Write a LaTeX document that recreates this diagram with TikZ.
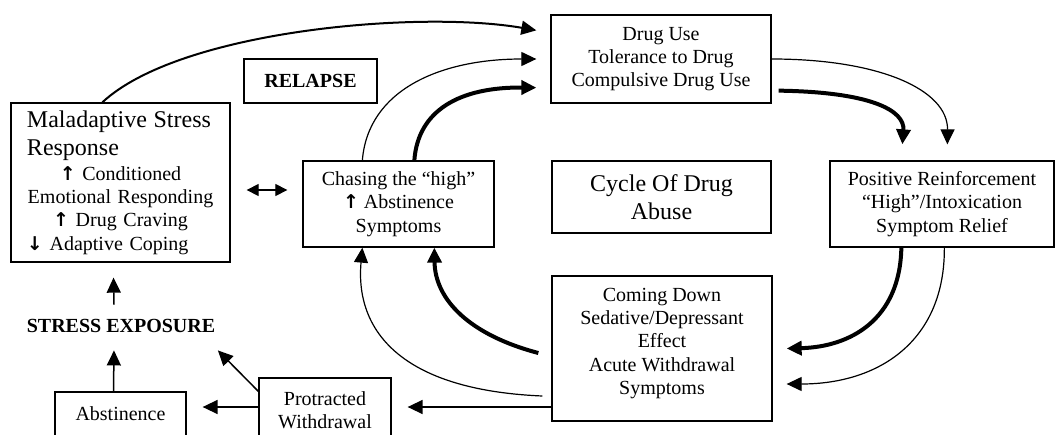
\documentclass[tikz,border=0pt]{standalone}
\usepackage{fontspec}
\setmainfont{Liberation Serif}
\newfontfamily\arrowfont{DejaVu Sans}
\newcommand{\uparw}{{\arrowfont\bfseries\fontsize{19}{19}\selectfont ↑}}
\newcommand{\dnarw}{{\arrowfont\bfseries\fontsize{19}{19}\selectfont ↓}}
\usetikzlibrary{arrows.meta,calc}
\tikzset{
  box/.style={draw, line width=1.3pt, inner sep=0pt, align=center, font=\fontsize{20}{23.3}\selectfont},
  tipstyle/.style={-{Triangle[length=15pt,width=14pt]}},
  thinarr/.style={tipstyle, line width=1.2pt},
  medarr/.style={tipstyle, line width=2pt},
  thickarr/.style={tipstyle, line width=4pt},
  plainarr/.style={tipstyle, line width=1.5pt},
  dblarr/.style={{Triangle[length=12pt,width=12pt]}-{Triangle[length=12pt,width=12pt]}, line width=1.2pt},
  boldlabel/.style={font=\bfseries\fontsize{20}{23}\selectfont}
}
\begin{document}
\begin{tikzpicture}[x=1pt,y=-1pt]
\useasboundingbox (0,0) rectangle (1058,434);
\fill[white] (0,0) rectangle (1058,434);

% boxes
\node[box, minimum width=220pt, minimum height=88pt] (drug) at (661,59)
  {Drug Use\\Tolerance to Drug\\Compulsive Drug Use};
\node[box, boldlabel, minimum width=133pt, minimum height=44pt] (relapse) at (310.5,81) {RELAPSE};
\node[box, minimum width=219pt, minimum height=159pt, text width=187pt, align=left] (mal) at (120.5,182.5)
  {{\fontsize{24}{28}\selectfont Maladaptive Stress\\Response\par}%
   \vspace{1.7pt}%
   {\fontsize{20}{23.3}\selectfont\centering \uparw{} Conditioned\\Emotional Responding\\\uparw{} Drug Craving\par}%
   {\fontsize{20}{23.3}\selectfont \dnarw{} Adaptive Coping\par}};
\node[box, minimum width=191pt, minimum height=86pt] (chase) at (398.5,204)
  {Chasing the “high”\\\uparw{} Abstinence\\Symptoms};
\node[box, minimum width=219pt, minimum height=72pt, font=\fontsize{24}{28}\selectfont] (cycle) at (661.5,197)
  {Cycle Of Drug\\Abuse};
\node[box, minimum width=224pt, minimum height=86pt] (pos) at (942,204)
  {Positive Reinforcement\\“High”/Intoxication\\Symptom Relief};
\node[box, minimum width=220pt, minimum height=145pt] (come) at (662,348.5)
  {\parbox{215pt}{\centering Coming Down\\Sedative/Depressant\\Effect\\Acute Withdrawal\\Symptoms\par\vspace{10pt}}};
\node[box, minimum width=132pt, minimum height=64pt] (prot) at (325,410) {Protracted\\Withdrawal};
\node[box, minimum width=131pt, minimum height=44pt] (abst) at (120.5,414) {Abstinence};
\node[boldlabel, inner sep=0pt] (stress) at (121,326) {STRESS EXPOSURE};

% relapse arrows into Drug Use
\draw[medarr] ($(mal.north west)+(92,0)$) .. controls (180,30) and (420,10) .. ($(drug.north west)+(-14,16)$);
\draw[thinarr] ($(chase.north west)+(60,0)$) .. controls (368,90) and (440,59) .. ($(drug.west)+(-14,0)$);
\draw[thickarr] ($(chase.north west)+(112,0)$) .. controls (418,110) and (460,87) .. ($(drug.south west)+(-14,-16)$);

% Drug Use -> Positive Reinforcement
\draw[thinarr] (drug.east) .. controls (880,59) and (948,90) .. ($(pos.north west)+(118,-16)$);
\draw[thickarr] ($(drug.south east)+(7,-13)$) .. controls (870,92) and (905,110) .. ($(pos.north west)+(73,-16)$);

% Positive Reinforcement -> Coming Down
\draw[thickarr] ($(pos.south west)+(72,0)$) .. controls (900,320) and (850,347) .. ($(come.east)+(14,0)$);
\draw[thinarr] ($(pos.south west)+(115,0)$) .. controls (945,340) and (880,384) .. ($(come.east)+(14,35.5)$);

% Coming Down -> Chasing
\draw[thickarr] ($(come.west)+(-13,4.5)$) .. controls (470,335) and (435,300) .. ($(chase.south west)+(132,0)$);
\draw[thinarr] ($(come.west)+(-9,47.5)$) .. controls (400,390) and (355,330) .. ($(chase.south west)+(60,0)$);

% lower chain
\draw[plainarr] ($(come.west)+(0,58.5)$) coordinate (cw) -- ($(cw -| prot.east)+(16,0)$);
\draw[plainarr] ($(prot.west)+(0,-3)$) coordinate (pw) -- ($(pw -| abst.east)+(16,0)$);
\draw[plainarr] ($(prot.north west)+(0,14)$) -- ($(stress.south east)+(2.5,17.5)$);
\draw[plainarr] ($(abst.north)+(-7,0)$) -- ($(stress.south)+(-7,17.5)$);
\draw[plainarr] ($(stress.north)+(-7,-14.5)$) -- ($(mal.south)+(-7,15)$);

% double arrow
\draw[dblarr] ($(mal.east)+(16,7.5)$) -- ($(chase.west)+(-15,-14)$);
\end{tikzpicture}
\end{document}
